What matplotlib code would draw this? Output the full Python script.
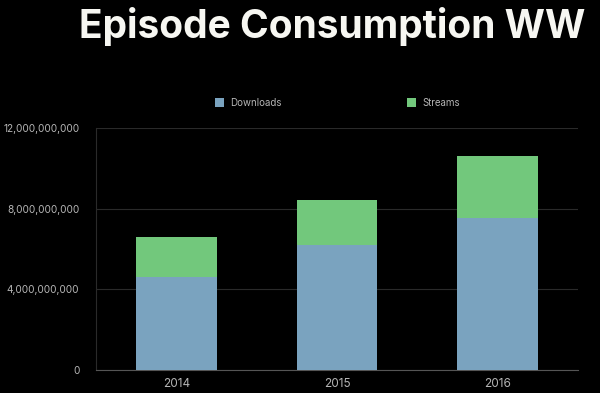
import matplotlib
matplotlib.use("Agg")
import matplotlib.pyplot as plt
from matplotlib.ticker import FuncFormatter
import numpy as np

years = ["2014", "2015", "2016"]
downloads = [4.6e9, 6.2e9, 7.55e9]
streams = [2.0e9, 2.25e9, 3.05e9]
yticks = [0, 4e9, 8e9, 12e9]

plt.rcParams['font.family'] = ['Inter', 'DejaVu Sans']

fig = plt.figure(figsize=(6, 3.93), dpi=100, facecolor='black')
ax = fig.add_axes([96/600, (393-370)/393, (578-96)/600, (370-128)/393])
ax.set_facecolor('black')

x = np.arange(len(years))
c_dl = '#7aa3bf'
c_st = '#72c87c'
ax.bar(x, downloads, width=0.5, color=c_dl, label='Downloads', zorder=3)
ax.bar(x, streams, width=0.5, bottom=downloads, color=c_st, label='Streams', zorder=3)

ax.set_xlim(-0.5, 2.5)
ax.set_ylim(0, 12e9)
ax.set_yticks(yticks)
ax.yaxis.set_major_formatter(FuncFormatter(lambda v, p: f"{int(v):,}"))
ax.set_xticks(x)
ax.set_xticklabels(years)
ax.tick_params(colors='#b5b5b5', length=0)
ax.tick_params(axis='x', labelsize=8.5, pad=6)
ax.tick_params(axis='y', labelsize=7.3, pad=12)
ax.grid(axis='y', color='#2a2a2a', linewidth=0.8, zorder=0)
for s in ['top', 'right']:
    ax.spines[s].set_visible(False)
ax.spines['left'].set_color('#2a2a2a')
ax.spines['bottom'].set_color('#555555')

fig.legend(handles=ax.containers, labels=['Downloads', 'Streams'],
           loc='center', bbox_to_anchor=(0.562, 1 - 103/393), ncol=2,
           frameon=False, fontsize=7, labelcolor='#b5b5b5',
           handlelength=0.95, handleheight=0.95, columnspacing=12.95, handletextpad=0.6)

fig.text(585/600, 1 - 26/393, "Episode Consumption WW", color='#f7f7f2',
         fontsize=28, fontweight='bold', ha='right', va='center')

fig.savefig('out.png', dpi=100, facecolor='black')
